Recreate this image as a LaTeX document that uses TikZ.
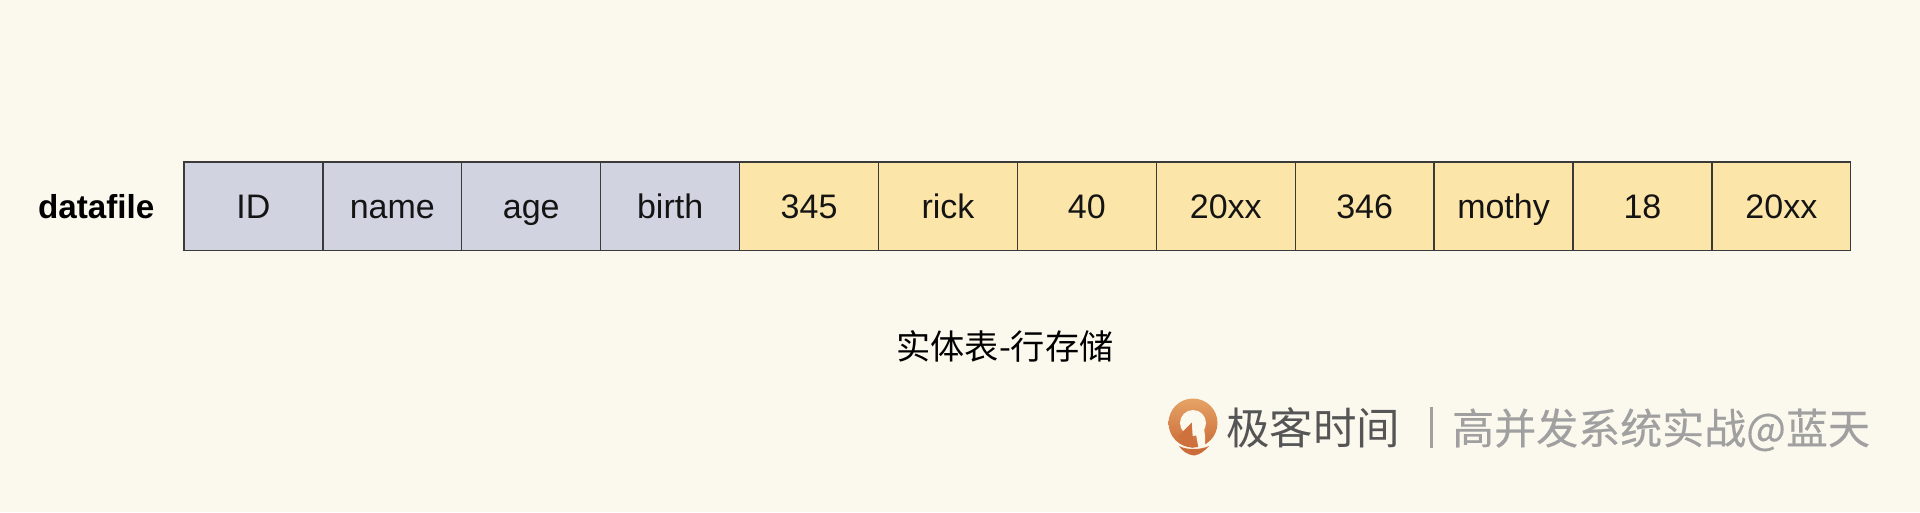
\documentclass[tikz,border=0pt]{standalone}
\usepackage{fontspec}
\setmainfont{Liberation Sans}
\newfontfamily\cjkfont{Noto Sans CJK SC}
\newfontfamily\cjkheavy[FakeBold=0.35]{Noto Sans CJK SC}
\definecolor{bgc}{HTML}{FBF9EE}
\definecolor{hdrc}{HTML}{D2D3E0}
\definecolor{valc}{HTML}{FCE5A8}
\definecolor{linec}{HTML}{3A3A3A}
\definecolor{logotop}{HTML}{E5A365}
\definecolor{logobot}{HTML}{CC6C38}
\definecolor{brandc}{HTML}{555555}
\definecolor{graytxt}{HTML}{A0A0A0}
\tikzset{
  cellbox/.style={draw=linec,line width=1.3pt,minimum width=138.9pt,minimum height=88.6pt,inner sep=0pt,
    text height=24pt,text depth=0pt,font=\fontsize{34}{34}\selectfont,text=black!92},
  hdr/.style={cellbox,fill=hdrc},
  val/.style={cellbox,fill=valc},
}
\begin{document}
\begin{tikzpicture}[x=1pt,y=-1pt]
\useasboundingbox (0,0) rectangle (1920,512);
\fill[bgc] (0,0) rectangle (1920,512);
\node[hdr] (c1) at (253.45,206.4) {ID};
\node[hdr] (c2) at (392.35,206.4) {name};
\node[hdr] (c3) at (531.25,206.4) {age};
\node[hdr] (c4) at (670.15,206.4) {birth};
\node[val] (c5) at (809.05,206.4) {345};
\node[val] (c6) at (947.95,206.4) {rick};
\node[val] (c7) at (1086.85,206.4) {40};
\node[val] (c8) at (1225.75,206.4) {20xx};
\node[val] (c9) at (1364.65,206.4) {346};
\node[val] (c10) at (1503.55,206.4) {mothy};
\node[val] (c11) at (1642.45,206.4) {18};
\node[val] (c12) at (1781.35,206.4) {20xx};
\node[inner sep=0pt,anchor=base] (lbl) at (96.3,218.5) {\fontsize{33.2}{33}\selectfont\bfseries datafile};
\node[inner sep=0pt,anchor=base] (cap) at (1005,359) {\cjkfont\fontsize{34.2}{34}\selectfont 实体表-行存储};
% logo
\shade[top color=logotop,bottom color=logobot] (1193,423) circle[radius=24.5];
\fill[bgc] (1193,423) circle[radius=13];
\fill[logobot!90!logotop] (1191.7,422.5) -- (1193.5,448) -- (1186,446) -- (1178,436) -- (1182.5,432) -- cycle;
\fill[bgc] (1194,423) -- (1204,428) -- (1205,436) -- (1205,444) -- (1207,451) -- (1199,451) -- cycle;
\fill[logobot] (1179,446) .. controls (1186,450) and (1201,450) .. (1209,446) .. controls (1205,451) and (1199,455) .. (1194,455.5) .. controls (1188,455) and (1182,451) .. (1179,446) -- cycle;
\node[inner sep=0pt,anchor=base west,text=brandc] (brand) at (1226,444) {\cjkfont\fontsize{43.5}{43}\selectfont 极客时间};
\draw[graytxt,line width=3pt] (1431,407) coordinate (d1) -- (1431,448) coordinate (d2);
\node[inner sep=0pt,anchor=base west,text=graytxt] (course) at (1452,444) {\cjkheavy\fontsize{42}{42}\selectfont 高并发系统实战@蓝天};
\end{tikzpicture}
\end{document}
